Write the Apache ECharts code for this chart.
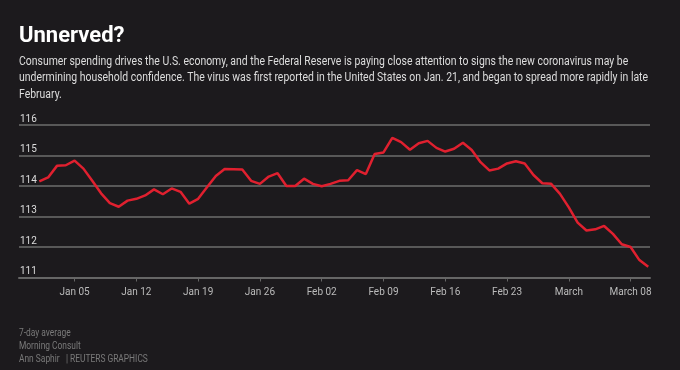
<!DOCTYPE html>
<html><head><meta charset="utf-8">
<script src="https://cdn.jsdelivr.net/npm/echarts@6/dist/echarts.min.js"></script>
<style>html,body{margin:0;padding:0;background:#1c1a1d;}#c{width:680px;height:370px;}</style>
</head><body><div id="c"></div>
<script>
// Daily 7-day average consumer sentiment, Jan 01 – Mar 10, 2020
const startDate = '2020-01-01';
const values = [
  114.15, 114.28, 114.66, 114.68, 114.83, 114.57, 114.17, 113.76, 113.44, 113.32,
  113.52, 113.58, 113.69, 113.89, 113.73, 113.92, 113.81, 113.42, 113.58, 113.96,
  114.33, 114.56, 114.55, 114.54, 114.17, 114.07, 114.31, 114.42, 114.00, 114.00,
  114.24, 114.07, 113.99, 114.07, 114.17, 114.19, 114.52, 114.39, 115.05, 115.10,
  115.58, 115.44, 115.19, 115.40, 115.48, 115.25, 115.13, 115.22, 115.42, 115.18,
  114.78, 114.51, 114.57, 114.74, 114.81, 114.74, 114.36, 114.09, 114.07, 113.74,
  113.30, 112.80, 112.54, 112.58, 112.69, 112.43, 112.09, 112.00, 111.57, 111.35
];
const tickDates = ['2020-01-05','2020-01-12','2020-01-19','2020-01-26','2020-02-02','2020-02-09','2020-02-16','2020-02-23','2020-03-01','2020-03-08'];
const tickLabels = ['Jan 05','Jan 12','Jan 19','Jan 26','Feb 02','Feb 09','Feb 16','Feb 23','March','March 08'];

const title = 'Unnerved?';
const subtitle = 'Consumer spending drives the U.S. economy, and the Federal Reserve is paying close attention to signs the new coronavirus may be\nundermining household confidence. The virus was first reported in the United States on Jan. 21, and began to spread more rapidly in late\nFebruary.';
const footer = ['7-day average', 'Morning Consult', 'Ann Saphir   | REUTERS GRAPHICS'];

const DAY = 86400000;
const t0 = Date.parse(startDate);
const dayIdx = d => Math.round((Date.parse(d) - t0) / DAY);
const seriesData = values.map((v, i) => [i, v]);
const tickPos = tickDates.map(dayIdx);
const labelMap = {};
tickPos.forEach((p, i) => labelMap[p] = tickLabels[i]);

const chart = echarts.init(document.getElementById('c'));
const font = 'Roboto, sans-serif';
chart.setOption({
  backgroundColor: '#1c1a1d',
  animation: false,
  textStyle: { fontFamily: font },
  title: [
    { text: title, left: 19, top: 25, padding: 0, textStyle: { color: '#ffffff', fontSize: 22, fontWeight: 'bold', fontFamily: font } }
  ],
  graphic: [
    { type: 'text', x: 19, y: 53.5, scaleX: 0.835, style: { text: subtitle, fill: '#dddddd', font: '12.5px Roboto, sans-serif', lineHeight: 16.5, verticalAlign: 'top' } },
    { type: 'text', x: 19, y: 326.5, scaleX: 0.8, style: { text: footer.join('\n'), fill: '#7a7a7a', font: '10.5px Roboto, sans-serif', lineHeight: 13, verticalAlign: 'top' } }
  ],
  grid: { left: 19, right: 30, top: 125, height: 152.5 },
  xAxis: {
    type: 'value',
    min: -2.3, max: 69.2,
    axisLine: { show: true, lineStyle: { color: '#666', width: 2 } },
    axisTick: { show: true, customValues: tickPos, length: 4, lineStyle: { color: '#666', width: 1 } },
    axisLabel: { customValues: tickPos, color: '#bbbbbb', fontSize: 10, margin: 10,
      formatter: v => labelMap[Math.round(v)] || '' },
    splitLine: { show: false }
  },
  yAxis: {
    type: 'value',
    min: 111, max: 116, interval: 1,
    axisLine: { show: false },
    axisTick: { show: false },
    axisLabel: { inside: true, color: '#dddddd', fontSize: 10, verticalAlign: 'bottom', margin: 1, padding: [0, 0, 1, 0] },
    splitLine: { show: true, lineStyle: { color: '#585858', width: 2 } }
  },
  series: [{
    type: 'line',
    data: seriesData,
    showSymbol: false,
    smooth: false,
    lineStyle: { color: '#e0202f', width: 2.5 },
    z: 5
  }]
});
</script></body></html>
